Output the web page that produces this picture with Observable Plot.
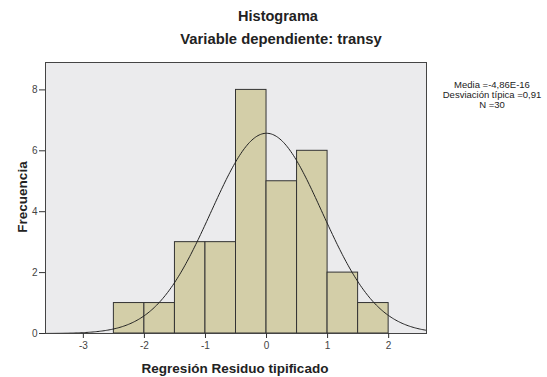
<!DOCTYPE html>
<html>
<head>
<meta charset="utf-8">
<script src="https://cdn.jsdelivr.net/npm/d3@7"></script>
<script src="https://cdn.jsdelivr.net/npm/@observablehq/plot@0.6"></script>
<style>
  body { margin: 0; background: #fff; font-family: "Liberation Sans", Arial, sans-serif; }
  #wrap { position: relative; width: 547px; height: 377px; }
  .t { position: absolute; font-weight: bold; color: #222; white-space: nowrap; transform: translate(-50%, -50%); }
  .s { position: absolute; font-size: 9.5px; color: #222; text-align: center; line-height: 10px; transform: translateX(-50%); white-space: nowrap; }
</style>
</head>
<body>
<div id="wrap"></div>
<script>
// Data
const binStarts = [-2.5, -2.0, -1.5, -1.0, -0.5, 0.0, 0.5, 1.0, 1.5];
const binWidth = 0.5;
const counts = [1, 1, 3, 3, 8, 5, 6, 2, 1];
const xTicks = [-3, -2, -1, 0, 1, 2];
const yTicks = [0, 2, 4, 6, 8];
const media = -4.86e-16;
const desviacion = 0.91;
const nObs = 30;

const bins = binStarts.map((s, i) => ({x1: s, x2: s + binWidth, count: counts[i]}));

// Normal curve with the reported mean, sd and N (scaled to bin width)
const xMin = -3.62, xMax = 2.62;
const curve = d3.range(xMin, xMax + 0.001, 0.02).map(x => ({
  x,
  y: nObs * binWidth * Math.exp(-0.5 * ((x - media) / desviacion) ** 2) / (desviacion * Math.sqrt(2 * Math.PI))
}));

const chart = Plot.plot({
  width: 547,
  height: 377,
  marginLeft: 45,
  marginRight: 121,
  marginTop: 62,
  marginBottom: 44,
  style: {fontFamily: "'Liberation Sans', Arial, sans-serif", fontSize: "10px", color: "#444", background: "transparent"},
  x: {domain: [xMin, xMax]},
  y: {domain: [0, 8.9]},
  marks: [
    Plot.frame({fill: "#ebebed", stroke: null}),
    Plot.rectY(bins, {x1: "x1", x2: "x2", y: "count", fill: "#d3cea8", stroke: "#333", strokeWidth: 1}),
    Plot.line(curve, {x: "x", y: "y", stroke: "#222", strokeWidth: 1, clip: true}),
    Plot.frame({stroke: "#444", strokeWidth: 1}),
    Plot.axisX({ticks: xTicks, tickFormat: d => String(d).replace("−", "-"), tickSize: 5, tickPadding: 3, label: null, stroke: "#333"}),
    Plot.axisY({ticks: yTicks, tickFormat: d => String(d), tickSize: 6, tickPadding: 2, label: null, stroke: "#333"})
  ]
});

const wrap = document.getElementById("wrap");
wrap.appendChild(chart);

function addText(cls, txt, x, y, size, rotate) {
  const d = document.createElement("div");
  d.className = cls;
  d.textContent = txt;
  d.style.left = x + "px";
  d.style.top = y + "px";
  if (size) d.style.fontSize = size + "px";
  if (rotate) d.style.transform = "translate(-50%, -50%) rotate(-90deg)";
  wrap.appendChild(d);
}
addText("t", "Histograma", 278, 16, 14.5);
addText("t", "Variable dependiente: transy", 281, 39, 14.8);
addText("t", "Frecuencia", 22, 197, 13.5, true);
addText("t", "Regresión Residuo tipificado", 235, 368, 13.5);

const s = document.createElement("div");
s.className = "s";
s.style.left = "492px";
s.style.top = "80px";
s.innerHTML = "Media =-4,86E-16<br>Desviación típica =0,91<br>N =30";
wrap.appendChild(s);
</script>
</body>
</html>
